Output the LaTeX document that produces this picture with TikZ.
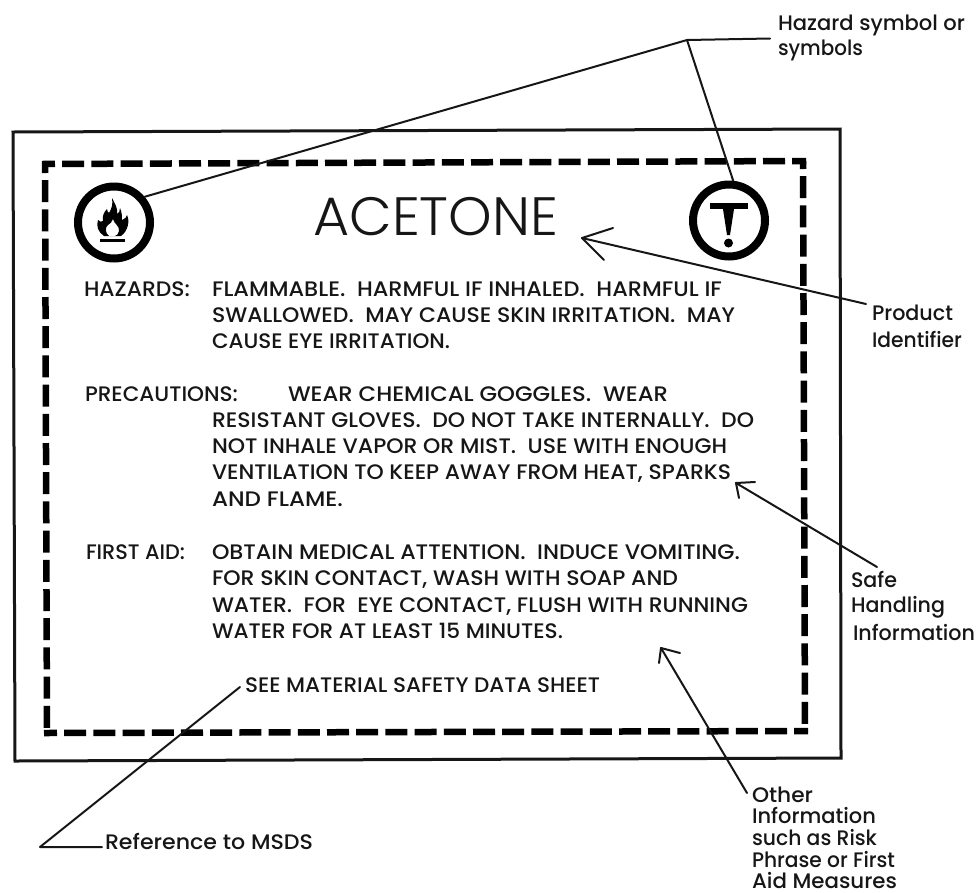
\documentclass[tikz,border=0pt]{standalone}
\usepackage{fontspec}
\usepackage{graphicx}
\setmainfont[UprightFont={* Medium}]{Poppins}
\newfontfamily\lightf[UprightFont={* Light}]{Poppins}
\newsavebox\fitbox
\newlength\fitlen
\newcommand{\fitw}[2]{\sbox\fitbox{#2}\setlength\fitlen{\wd\fitbox}\pgfmathsetmacro\fitr{#1/\fitlen}\scalebox{\fitr}[1]{\usebox\fitbox}}
\definecolor{ink}{HTML}{161616}
\tikzset{
 body/.style={anchor=base west,inner sep=0pt,outer sep=0pt,text=ink,font=\fontsize{21}{24}\selectfont},
 lab/.style={anchor=base west,inner sep=0pt,outer sep=0pt,text=ink,font=\fontsize{21}{24}\selectfont},
 lead/.style={draw=ink,line width=2pt,line cap=round,line join=round},
 symring/.style={circle,draw=black,line width=8pt,minimum size=72pt,inner sep=0pt},
 dashside/.style={draw=black,line width=6.5pt,dash pattern=on 22pt off 7.2pt}
}
\begin{document}
\begin{tikzpicture}[x=1pt,y=-1pt]
\useasboundingbox (0,0) rectangle (979,892);
% outer frame
\draw[ink,line width=3pt,line join=miter] (13,132) -- (840,129) -- (841,758) -- (15,761) -- cycle;
% dashed frame
\coordinate (dtl) at (45,164);
\coordinate (dtr) at (803,161);
\coordinate (dbr) at (805,731);
\coordinate (dbl) at (47,733);
\draw[dashside,dash phase=9] (42,164) -- (806,161);
\draw[dashside,dash phase=13] (dtl) -- (dbl);
\draw[dashside,dash phase=14] (dtr) -- (dbr);
\draw[dashside,dash phase=9] (44,733) -- (808,731);
% symbols
\node[symring] (flamesym) at (114,222.5) {};
\node[symring] (toxsym) at (729,220.5) {};
\fill[black,even odd rule]
 (112,198) .. controls (115,204) and (118,208) .. (117,214)
 .. controls (119,213) and (120,211) .. (120,208)
 .. controls (122,212) and (122,217) .. (122,220)
 .. controls (125,219) and (127,217) .. (127,215)
 .. controls (130,221) and (128,231) .. (121,236)
 -- (104,236)
 .. controls (98,232) and (96,226) .. (98,220)
 .. controls (100,222) and (101,222) .. (103,221)
 .. controls (102,216) and (104,212) .. (107,209)
 .. controls (107,211) and (108,212) .. (109,213)
 .. controls (112,208) and (113,204) .. (112,198) -- cycle
 (113,219) .. controls (114,224) and (120,226) .. (119,231)
 .. controls (118.5,234) and (117,235.5) .. (115,236)
 -- (109,236)
 .. controls (105,233) and (105,227) .. (108,225)
 .. controls (110,224) and (112,222) .. (113,219) -- cycle;
\draw[black,line width=3pt] (100,240.5) -- (125,240.5);
% T symbol
\fill[black] (710,203) rectangle (748,209);
\fill[black] (723,209) -- (734,209) -- (730,235) -- (727,235) -- cycle;
\fill[black] (728.5,243) circle (4.5);
% title
\node[anchor=base west,inner sep=0pt,text=ink,font=\lightf\fontsize{54}{60}\selectfont] (title) at (313,235) {\fitw{245}{ACETONE}};
% body
\node[body] (h0) at (84,296) {\fitw{106}{HAZARDS:}};
\node[body] (h1) at (212,296) {\fitw{510}{FLAMMABLE.~~HARMFUL IF INHALED.~~HARMFUL IF}};
\node[body] (h2) at (212,322) {\fitw{523}{SWALLOWED.~~MAY CAUSE SKIN IRRITATION.~~MAY}};
\node[body] (h3) at (212,348) {\fitw{238}{CAUSE EYE IRRITATION.}};
\node[body] (p0) at (85,401) {\fitw{153}{PRECAUTIONS:}};
\node[body] (p1) at (288,401) {\fitw{380}{WEAR CHEMICAL GOGGLES.~~WEAR}};
\node[body] (p2) at (212,427) {\fitw{542}{RESISTANT GLOVES.~~DO NOT TAKE INTERNALLY.~~DO}};
\node[body] (p3) at (212,453) {\fitw{515}{NOT INHALE VAPOR OR MIST.~~USE WITH ENOUGH}};
\node[body] (p4) at (212,479) {\fitw{519}{VENTILATION TO KEEP AWAY FROM HEAT, SPARKS}};
\node[body] (p5) at (212,506) {\fitw{131}{AND FLAME.}};
\node[body] (f0) at (86,559) {\fitw{99}{FIRST AID:}};
\node[body] (f1) at (212,559) {\fitw{528}{OBTAIN MEDICAL ATTENTION.~~INDUCE VOMITING.}};
\node[body] (f2) at (212,585) {\fitw{466}{FOR SKIN CONTACT, WASH WITH SOAP AND}};
\node[body] (f3) at (212,612) {\fitw{536}{WATER.~~FOR~~EYE CONTACT, FLUSH WITH RUNNING}};
\node[body] (f4) at (212,638) {\fitw{351}{WATER FOR AT LEAST 15 MINUTES.}};
\node[body] (see) at (245,692) {\fitw{355}{SEE MATERIAL SAFETY DATA SHEET}};
% labels
\node[lab] (l1a) at (778,30) {\fitw{187}{Hazard symbol or}};
\node[lab] (l1b) at (778,55) {\fitw{85}{symbols}};
\node[lab] (l2a) at (872,320) {\fitw{81}{Product}};
\node[lab] (l2b) at (872,347) {\fitw{90}{Identifier}};
\node[lab] (l3a) at (851,587) {\fitw{46}{Safe}};
\node[lab] (l3b) at (851,612) {\fitw{94}{Handling}};
\node[lab] (l3c) at (853,640) {\fitw{122}{Information}};
\node[lab] (l4a) at (752,802) {\fitw{61}{Other}};
\node[lab] (l4b) at (752,823) {\fitw{124}{Information}};
\node[lab] (l4c) at (752,845) {\fitw{125}{such as Risk}};
\node[lab] (l4d) at (752,867) {\fitw{143}{Phrase or First}};
\node[lab] (l4e) at (752,888) {\fitw{145}{Aid Measures}};
\node[lab] (l5) at (105,849) {\fitw{208}{Reference to MSDS}};
% connectors
\coordinate (junc) at (687,40);
\coordinate (hazend) at (770,38.5);
\draw[lead] (flamesym.40) -- (junc) -- (toxsym.84);
\draw[lead] (junc) -- (hazend);
\coordinate (ptip) at (582,238);
\coordinate (pend) at (866,304);
\coordinate (pb1) at (613,228);
\coordinate (pb2) at (604,260);
\draw[lead] (pend) -- (ptip);
\draw[lead] (pb1) -- (ptip) -- (pb2);
\coordinate (stip) at (736,483);
\coordinate (send) at (877,567);
\coordinate (sb1) at (755,482);
\coordinate (sb2) at (739,498);
\draw[lead] (send) -- (stip);
\draw[lead] (sb1) -- (stip) -- (sb2);
\coordinate (otip) at (661,648);
\coordinate (oend) at (747,793);
\coordinate (ob1) at (680,653);
\coordinate (ob2) at (659,663);
\draw[lead] (oend) -- (otip);
\draw[lead] (ob1) -- (otip) -- (ob2);
\coordinate (ms1) at (240,687);
\coordinate (ms2) at (40,847);
\coordinate (ms3) at (102,847);
\draw[lead] (ms1) -- (ms2) -- (ms3);
\end{tikzpicture}
\end{document}
